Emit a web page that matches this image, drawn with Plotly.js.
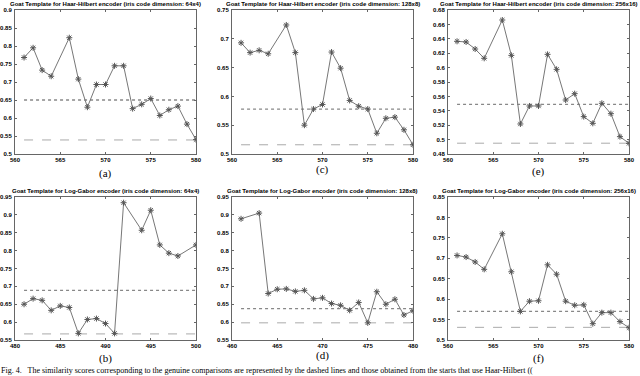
<!DOCTYPE html>
<html><head><meta charset="utf-8">
<script src="https://cdn.plot.ly/plotly-3.0.1.min.js"></script>
<style>html,body{margin:0;padding:0;background:#fff;}#chart{width:640px;height:376px;}</style>
</head><body><div id="chart"></div>
<script>
// Data
const hhX = [561,562,563,564,566,567,568,569,570,571,572,573,574,575,576,577,578,579,580];
const aY = [0.768,0.795,0.733,0.716,0.823,0.708,0.630,0.693,0.693,0.745,0.745,0.626,0.638,0.654,0.607,0.623,0.633,0.583,0.540];
const cY = [0.693,0.676,0.680,0.674,0.724,0.676,0.550,0.578,0.586,0.677,0.649,0.593,0.583,0.578,0.536,0.562,0.564,0.542,0.516];
const eY = [0.6365,0.6356,0.6258,0.6129,0.6661,0.617,0.5217,0.5467,0.5467,0.6184,0.5976,0.555,0.5638,0.5319,0.5226,0.5504,0.536,0.5041,0.4948];
const fY = [0.707,0.703,0.691,0.673,0.760,0.667,0.570,0.595,0.596,0.684,0.661,0.595,0.585,0.586,0.540,0.567,0.567,0.545,0.530];
const bX = [481,482,483,484,485,486,487,488,489,490,491,492,494,495,496,497,498,500];
const bY = [0.650,0.6657,0.661,0.633,0.6454,0.641,0.5685,0.6074,0.610,0.596,0.5685,0.934,0.857,0.913,0.816,0.793,0.785,0.816];
const dX = [461,463,464,465,466,467,468,469,470,471,472,473,474,475,476,477,478,479,480];
const dY = [0.889,0.905,0.680,0.692,0.693,0.686,0.689,0.665,0.668,0.652,0.647,0.633,0.655,0.598,0.685,0.650,0.664,0.620,0.632];
// reference levels [dotted, dashed]
const aRef = [0.650,0.539], cRef=[0.578,0.516], eRef=[0.549,0.495];
const bRef = [0.689,0.567], dRef=[0.638,0.598], fRef=[0.570,0.531];
const titles = [
 'Goat Template for Haar-Hilbert encoder (iris code dimension: 64x4)',
 'Goat Template for Haar-Hilbert encoder (iris code dimension: 128x8)',
 'Goat Template for Haar-Hilbert encoder (iris code dimension: 256x16)',
 'Goat Template for Log-Gabor encoder (iris code dimension: 64x4)',
 'Goat Template for Log-Gabor encoder (iris code dimension: 128x8)',
 'Goat Template for Log-Gabor encoder (iris code dimension: 256x16)'];
const captions = ['(a)','(c)','(e)','(b)','(d)','(f)'];
const figCaption = 'Fig. 4.   The similarity scores corresponding to the genuine comparisons are represented by the dashed lines and those obtained from the starts that use Haar-Hilbert ((';

const panels = [
 {x:hhX,y:aY,ref:aRef,xr:[560,580],yr:[0.5,0.9],dt:0.05},
 {x:hhX,y:cY,ref:cRef,xr:[560,580],yr:[0.5,0.75],dt:0.05},
 {x:hhX,y:eY,ref:eRef,xr:[560,580],yr:[0.48,0.68],dt:0.02},
 {x:bX,y:bY,ref:bRef,xr:[480,500],yr:[0.55,0.95],dt:0.05},
 {x:dX,y:dY,ref:dRef,xr:[460,480],yr:[0.55,0.95],dt:0.05},
 {x:hhX,y:fY,ref:fRef,xr:[560,580],yr:[0.5,0.85],dt:0.05}
];
const W=640,H=376;
const colPx=[[15,196],[232,413],[448,629]];
const rowPx=[[10,154],[197,340]];
const capY=[173,169,172,358,355,358];

const traces=[]; const layout={width:W,height:H,margin:{l:0,r:0,t:0,b:0},showlegend:false,
 paper_bgcolor:'#fff',plot_bgcolor:'#fff',annotations:[],font:{family:'Liberation Sans, Arial, sans-serif'}};
panels.forEach((p,i)=>{
  const col=i%3,row=Math.floor(i/3);
  const xa='x'+(i?i+1:''), ya='y'+(i?i+1:'');
  const xk='xaxis'+(i?i+1:''), yk='yaxis'+(i?i+1:'');
  const x0=p.x[0], x1=p.x[p.x.length-1];
  traces.push({x:[x0,x1],y:[p.ref[0],p.ref[0]],xaxis:xa,yaxis:ya,mode:'lines',line:{color:'#888',width:1.3,dash:'dot'},hoverinfo:'skip'});
  traces.push({x:[x0,x1],y:[p.ref[1],p.ref[1]],xaxis:xa,yaxis:ya,mode:'lines',line:{color:'#aaa',width:1,dash:'dash'},hoverinfo:'skip'});
  traces.push({x:p.x,y:p.y,xaxis:xa,yaxis:ya,mode:'lines+markers',line:{color:'#777',width:1},
    marker:{symbol:'asterisk-open',size:5,color:'#555',line:{color:'#555',width:1}}});
  const axCommon={showgrid:false,zeroline:false,showline:true,mirror:'ticks',linecolor:'#666',linewidth:1,
    ticks:'inside',ticklen:2,tickcolor:'#666',tickfont:{size:6,color:'#000',family:'Liberation Sans, Arial, sans-serif',weight:'bold'}};
  layout[xk]=Object.assign({},axCommon,{domain:[colPx[col][0]/W,colPx[col][1]/W],range:p.xr,dtick:5,tick0:0,anchor:ya});
  layout[yk]=Object.assign({},axCommon,{domain:[1-rowPx[row][1]/H,1-rowPx[row][0]/H],range:p.yr,dtick:p.dt,tick0:0,anchor:xa,ticklabelstandoff:1});
  layout.annotations.push({text:titles[i],xref:'paper',yref:'paper',x:(colPx[col][0]+colPx[col][1])/2/W,y:1-(rowPx[row][0]-1)/H,
    xanchor:'center',yanchor:'bottom',showarrow:false,font:{size:6,color:'#000',weight:'bold'}});
  layout.annotations.push({text:captions[i],xref:'paper',yref:'paper',x:(colPx[col][0]+colPx[col][1])/2/W,y:1-capY[i]/H,
    xanchor:'center',yanchor:'middle',showarrow:false,borderpad:0,font:{size:11,color:'#000',family:'Liberation Serif, serif'}});
});
layout.annotations.push({text:figCaption,xref:'paper',yref:'paper',x:0,y:0,xanchor:'left',yanchor:'bottom',
  showarrow:false,borderpad:0,font:{size:8,color:'#000',family:'Liberation Serif, serif'}});
Plotly.newPlot('chart',traces,layout,{staticPlot:true,displayModeBar:false});
</script></body></html>
